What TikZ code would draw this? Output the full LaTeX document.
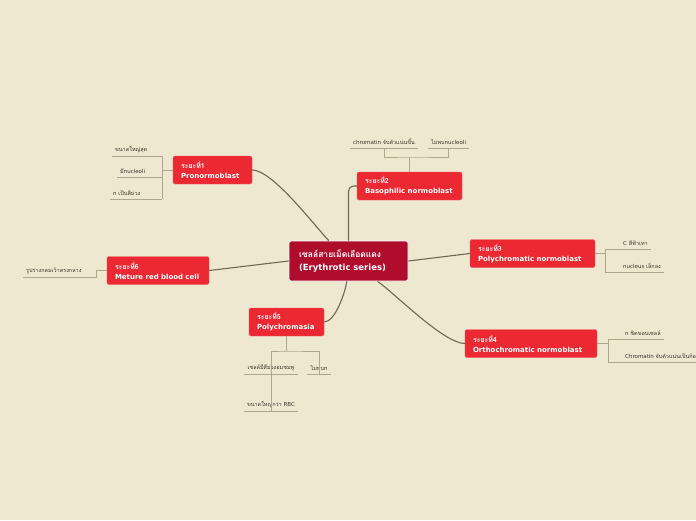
\documentclass[tikz,border=0pt]{standalone}
\usepackage{fontspec}
\setmainfont{DejaVu Sans}
\newfontfamily\thaifont[Script=Thai]{Loma}
\usepackage{tikz}
\usetikzlibrary{positioning}
\definecolor{paper}{RGB}{239,232,209}
\definecolor{stagered}{RGB}{236,40,50}
\definecolor{rootred}{RGB}{176,12,44}
\definecolor{branchc}{RGB}{112,102,84}
\definecolor{twigc}{RGB}{176,166,138}
\definecolor{leafc}{RGB}{58,52,42}
\newcommand{\tht}[1]{{\thaifont #1}}
\tikzset{
  root/.style={fill=rootred, draw=white, line width=0.8pt, rounded corners=2pt, text=white,
    font=\fontsize{8.5}{12.5}\selectfont\bfseries, align=left, inner xsep=10pt,
    minimum height=40pt},
  stage/.style={fill=stagered, draw=stagered!75!white, line width=0.4pt, rounded corners=2pt,
    text=white, font=\fontsize{7}{10}\selectfont\bfseries, align=left, inner xsep=8pt,
    minimum height=28pt},
  leaf/.style={font=\fontsize{5.5}{6.5}\selectfont, text=leafc, inner xsep=3pt, inner ysep=3pt,
    anchor=south west},
  branch/.style={draw=branchc, line width=1.1pt},
  twig/.style={draw=twigc, line width=0.9pt},
}
\begin{document}
\begin{tikzpicture}[x=1pt, y=1pt]
  \fill[paper] (0,0) rectangle (696,-520);
  \useasboundingbox (0,0) rectangle (696,-520);
  % main topic and stages
  \node[root, text width=99pt] (ctr) at (348.5,-261) {\tht{เซลล์สายเม็ดเลือดแดง}\\(Erythrotic series)};
  \node[stage, text width=63pt] (s1) at (212.5,-170) {\tht{ระยะที่1}\\Pronormoblast};
  \node[stage, text width=89pt] (s2) at (409.5,-186) {\tht{ระยะที่2}\\Basophilic normoblast};
  \node[stage, text width=109pt] (s3) at (532.5,-253.5) {\tht{ระยะที่3}\\Polychromatic normoblast};
  \node[stage, text width=116pt] (s4) at (531,-343.5) {\tht{ระยะที่4}\\Orthochromatic normoblast};
  \node[stage, text width=59pt] (s5) at (286.5,-322) {\tht{ระยะที่5}\\Polychromasia};
  \node[stage, text width=86pt] (s6) at (158,-270.5) {\tht{ระยะที่6}\\Meture red blood cell};
  % branches
  \draw[branch] (ctr.134) to[out=134, in=0, looseness=0.5] (s1.east);
  \draw[branch, rounded corners=5pt] (ctr.north) |- (s2.west);
  \draw[branch] (ctr.east) -- (s3.west);
  \draw[branch] (ctr.-35) to[out=-35, in=180, looseness=0.5] (s4.west);
  \draw[branch] (ctr.-95) to[out=-97, in=0, looseness=0.6] (s5.east);
  \draw[branch] (ctr.west) -- (s6.east);
  % stage 1 details
  \node[leaf] (a1) at (112,-156) {\tht{ขนาดใหญ่สุด}};
  \node[leaf] (a2) at (117,-177) {\tht{มี}nucleoli};
  \node[leaf] (a3) at (110,-199) {n \tht{เป็นสีม่วง}};
  \coordinate (k1) at (162,-170);
  \draw[twig] (s1.west) -- (k1);
  \draw[twig] (k1 |- a1.south) -- (k1 |- a3.south);
  \foreach \n in {a1,a2,a3}
    \draw[twig] (\n.south west) -- (k1 |- \n.south);
  % stage 2 details
  \node[leaf] (b1) at (350,-148) {chromatin \tht{จับตัวแน่นขึ้น}};
  \node[leaf] (b2) at (428,-148) {\tht{ไม่พบ}nucleoli};
  \coordinate (k2) at (409.5,-157);
  \draw[twig] (s2.north) -- (k2);
  \draw[twig] (b1.south) |- (k2) -| (b2.south);
  \foreach \n in {b1,b2}
    \draw[twig] (\n.south west) -- (\n.south east);
  % stage 3 details
  \node[leaf] (c1) at (620,-249) {C \tht{สีฟ้าเทา}};
  \node[leaf] (c2) at (620,-272) {nucleus \tht{เล็กลง}};
  \coordinate (k3) at (605,-253.5);
  \draw[twig] (s3.east) -- (k3);
  \draw[twig] (k3 |- c1.south) -- (k3 |- c2.south);
  \foreach \n in {c1,c2}
    \draw[twig] (k3 |- \n.south) -- (\n.south east);
  % stage 4 details
  \node[leaf] (g1) at (622,-339) {n \tht{ชิดขอบเซลล์}};
  \node[leaf] (g2) at (622,-362) {Chromatin \tht{จับตัวแน่นเป็นก้อน}};
  \coordinate (k4) at (608,-343.5);
  \draw[twig] (s4.east) -- (k4);
  \draw[twig] (k4 |- g1.south) -- (k4 |- g2.south);
  \foreach \n in {g1,g2}
    \draw[twig] (k4 |- \n.south) -- (\n.south east);
  % stage 5 details
  \node[leaf, anchor=south] (d1) at (271,-374) {\tht{เซลล์มีสีม่วงอมชมพู}};
  \node[leaf, anchor=south] (d2) at (319,-374) {\tht{ไม่พบ}n};
  \node[leaf, anchor=south] (d3) at (271,-411) {\tht{ขนาดใหญ่กว่า} RBC};
  \coordinate (k5) at (286.5,-351);
  \draw[twig] (s5.south) -- (k5);
  \draw[twig] (d1.south) |- (k5) -| (d2.south);
  \draw[twig] (d1.south) -- (d3.south);
  \foreach \n in {d1,d2,d3}
    \draw[twig] (\n.south west) -- (\n.south east);
  % stage 6 details
  \node[leaf] (e1) at (23,-277) {\tht{รูปร่างกลมเว้าตรงกลาง}};
  \coordinate (k6) at (96,-270.5);
  \draw[twig] (s6.west) -- (k6) -- (k6 |- e1.south) -- (e1.south west);
\end{tikzpicture}
\end{document}
